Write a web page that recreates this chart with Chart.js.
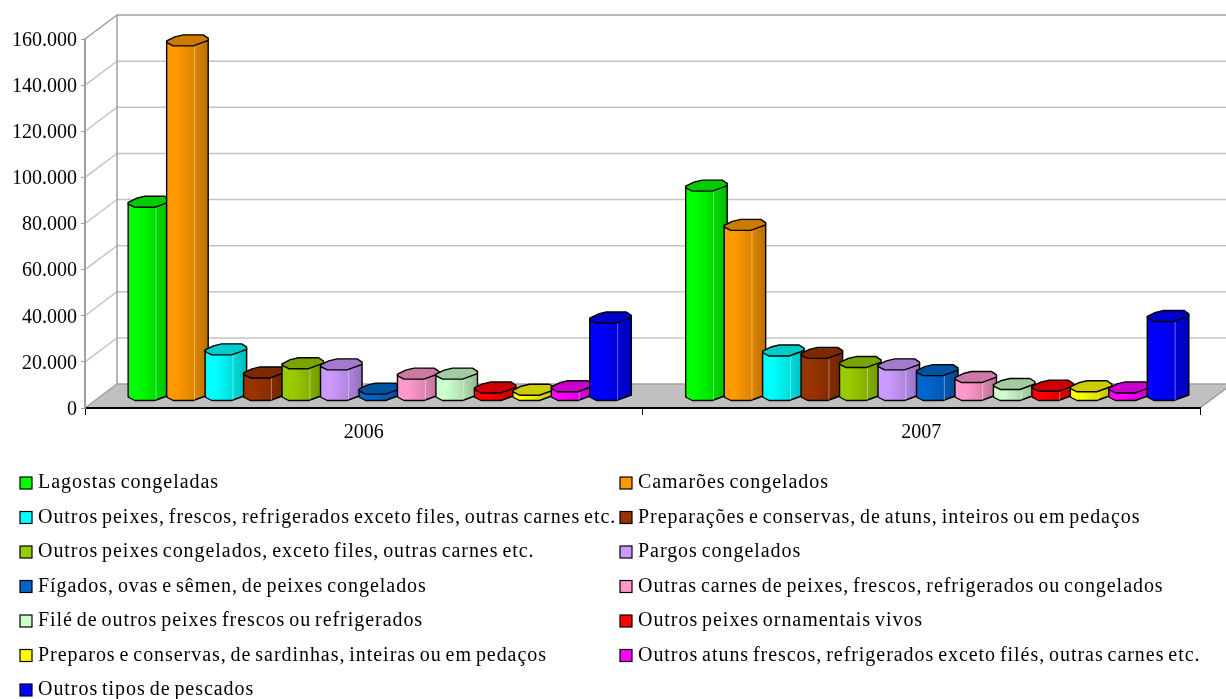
<!DOCTYPE html>
<html><head><meta charset="utf-8">
<style>html,body{margin:0;padding:0;background:#fff}canvas{display:block}</style>
<script src="https://cdn.jsdelivr.net/npm/chart.js@4"></script>
</head><body><canvas id="c" width="1226" height="699"></canvas>
<script>
const categories = ['2006','2007'];
const seriesNames = [
 'Lagostas congeladas','Camarões congelados',
 'Outros peixes, frescos, refrigerados exceto files, outras carnes etc.','Preparações e conservas, de atuns, inteiros ou em pedaços',
 'Outros peixes congelados, exceto files, outras carnes etc.','Pargos congelados',
 'Fígados, ovas e sêmen, de peixes congelados','Outras carnes de peixes, frescos, refrigerados ou congelados',
 'Filé de outros peixes frescos ou refrigerados','Outros peixes ornamentais vivos',
 'Preparos e conservas, de sardinhas, inteiras ou em pedaços','Outros atuns frescos, refrigerados exceto filés, outras carnes etc.',
 'Outros tipos de pescados'];
const values2006 = [84000,154000,20000,10000,14000,13500,3000,9500,9500,3500,2500,4000,33800];
const values2007 = [91000,74000,19500,18500,14500,13500,11000,8000,5000,4200,4000,3500,34500];
const seriesColors = ['#00FF00','#FF9900','#00FFFF','#993300','#99CC00','#CC99FF','#0066CC','#FF99CC','#CCFFCC','#FF0000','#FFFF00','#FF00FF','#0000FF'];
const yTicks = [0,20000,40000,60000,80000,100000,120000,140000,160000];

const FONT = '"Liberation Serif","Times New Roman",serif';
const DX = 32, DY = 24, BAR_DX = 16, BAR_DY = 7, CAP = 11;
const frontEdge = [[0,.65],[.03,.75],[.16,1],[.64,1],[1,.5]];
const backEdge  = [[1,.3],[.88,0],[.4,0],[.2,.18],[0,.55]];

function shade(hex,f){
  const n=parseInt(hex.slice(1),16);
  return `rgb(${Math.round((n>>16&255)*f)},${Math.round((n>>8&255)*f)},${Math.round((n&255)*f)})`;
}
const wallPlugin = {
  id:'wall',
  beforeDatasetsDraw(chart){
    const {ctx,chartArea:a,scales:{y}}=chart;
    ctx.save();
    ctx.fillStyle='#C0C0C0';
    ctx.beginPath();
    ctx.moveTo(a.left,a.bottom);ctx.lineTo(a.right,a.bottom);
    ctx.lineTo(a.right+DX,a.bottom-DY);ctx.lineTo(a.left+DX,a.bottom-DY);
    ctx.closePath();ctx.fill();
    ctx.lineWidth=1.5;
    y.ticks.forEach(t=>{
      const py=y.getPixelForValue(t.value);
      ctx.strokeStyle=(t.value===0||t.value===160000)?'#A0A0A0':'#C4C4C4';
      ctx.beginPath();
      ctx.moveTo(a.left,py);ctx.lineTo(a.left+DX,py-DY);ctx.lineTo(a.right+DX,py-DY);
      ctx.stroke();
    });
    ctx.strokeStyle='#A0A0A0';
    ctx.beginPath();
    ctx.moveTo(a.left+DX,a.top-DY);ctx.lineTo(a.left+DX,a.bottom-DY);
    ctx.moveTo(a.right,a.bottom);ctx.lineTo(a.right+DX,a.bottom-DY);
    ctx.stroke();
    ctx.restore();
  },
  afterDatasetsDraw(chart){
    const {ctx}=chart;
    ctx.save();
    ctx.lineJoin='round';
    categories.forEach((_,ci)=>{
      chart.data.datasets.forEach((ds,di)=>{
        const el=chart.getDatasetMeta(di).data[ci];
        const w=el.width, x0=el.x-w/2+BAR_DX, yt=el.y-BAR_DY, yb=el.base-BAR_DY;
        const col=seriesColors[di];
        const pt=(p,yy)=>[x0+p[0]*w, yy-CAP+p[1]*CAP];
        ctx.beginPath();
        let q=pt(frontEdge[0],yt);ctx.moveTo(q[0],q[1]);
        frontEdge.forEach(p=>{const r=pt(p,yb);ctx.lineTo(r[0],r[1]);});
        q=pt(frontEdge[frontEdge.length-1],yt);ctx.lineTo(q[0],q[1]);
        ctx.closePath();
        const g=ctx.createLinearGradient(x0,0,x0+w,0);
        g.addColorStop(0,shade(col,1));g.addColorStop(.25,shade(col,1));
        g.addColorStop(.68,shade(col,.86));g.addColorStop(1,shade(col,.72));
        ctx.fillStyle=g;ctx.fill();
        ctx.strokeStyle='#000';ctx.lineWidth=1.4;ctx.stroke();
        if(yb-yt>8){
          ctx.strokeStyle='rgba(255,255,255,.4)';ctx.lineWidth=1;
          ctx.beginPath();ctx.moveTo(x0+.67*w,yt);ctx.lineTo(x0+.67*w,yb);ctx.stroke();
        }
        ctx.beginPath();
        frontEdge.concat(backEdge).forEach((p,i)=>{const r=pt(p,yt);i?ctx.lineTo(r[0],r[1]):ctx.moveTo(r[0],r[1]);});
        ctx.closePath();
        ctx.fillStyle=shade(col,.8);ctx.fill();
        ctx.strokeStyle='#000';ctx.lineWidth=1.4;ctx.stroke();
      });
    });
    ctx.restore();
  },
  afterDraw(chart){
    const {ctx}=chart;
    ctx.save();
    ctx.font='20px '+FONT;ctx.textBaseline='middle';
    ctx.letterSpacing='0.95px';ctx.wordSpacing='-2px';
    chart.data.datasets.forEach((ds,i)=>{
      const col=i%2, row=Math.floor(i/2);
      const mx=col?620:20, my=483+row*34.5;
      ctx.fillStyle=seriesColors[i];ctx.fillRect(mx,my-6,12,12);
      ctx.strokeStyle='#000';ctx.lineWidth=1.2;ctx.strokeRect(mx,my-6,12,12);
      ctx.fillStyle='#000';ctx.fillText(ds.label,mx+18,my);
    });
    ctx.restore();
  }
};
new Chart(document.getElementById('c'),{
  type:'bar',
  data:{labels:categories,datasets:seriesNames.map((n,i)=>({
    label:n,data:[values2006[i],values2007[i]],
    backgroundColor:'rgba(0,0,0,0)',borderWidth:0,
    barPercentage:1.08,categoryPercentage:.897}))},
  options:{
    responsive:false,animation:false,
    layout:{padding:{top:39,right:26,left:0,bottom:0}},
    plugins:{legend:{display:false},tooltip:{enabled:false},title:{display:false}},
    scales:{
      x:{grid:{drawOnChartArea:false,color:'#000',tickLength:7,tickColor:'#000'},
         border:{color:'#000',width:2,z:1},
         ticks:{color:'#000',font:{family:FONT,size:20},padding:6,maxRotation:0},
         afterFit(s){s.height=291;}},
      y:{min:0,max:160000,
         afterBuildTicks(s){s.ticks=yTicks.map(v=>({value:v}));},
         grid:{drawOnChartArea:false,color:'#A0A0A0',tickLength:4,tickColor:'#A0A0A0'},
         border:{color:'#A0A0A0',width:2,z:1},
         ticks:{color:'#000',font:{family:FONT,size:20},padding:4,labelOffset:1.5,
           callback:v=>String(v).replace(/\B(?=(\d{3})+$)/g,'.')},
         afterFit(s){s.width=85;}}
    }
  },
  plugins:[{id:'bg',beforeDraw(c){c.ctx.fillStyle='#fff';c.ctx.fillRect(0,0,c.width,c.height);}},wallPlugin]
});
</script></body></html>
